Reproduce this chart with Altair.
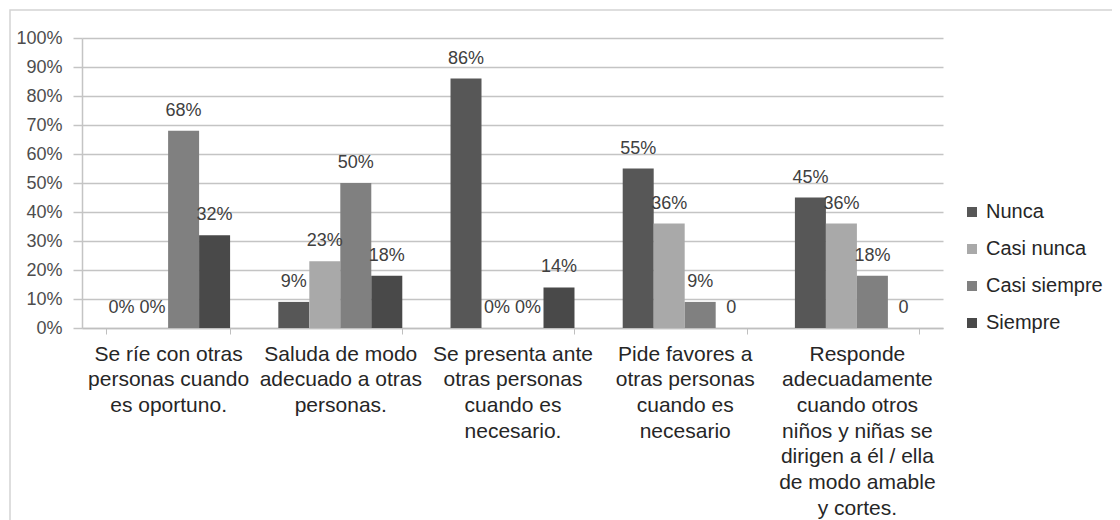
import altair as alt
import pandas as pd

categories = [
    "Se ríe con otras|personas cuando|es oportuno.",
    "Saluda de modo|adecuado a otras|personas.",
    "Se presenta ante|otras personas|cuando es|necesario.",
    "Pide favores a|otras personas|cuando es|necesario",
    "Responde|adecuadamente|cuando otros|niños y niñas se|dirigen a él / ella|de modo amable|y cortes.",
]
series = ["Nunca", "Casi nunca", "Casi siempre", "Siempre"]

nunca = [0, 9, 86, 55, 45]
casi_nunca = [0, 23, 0, 36, 36]
casi_siempre = [68, 50, 0, 9, 18]
siempre = [32, 18, 14, 0, 0]

label_nunca = ["0%", "9%", "86%", "55%", "45%"]
label_casi_nunca = ["0%", "23%", "0%", "36%", "36%"]
label_casi_siempre = ["68%", "50%", "0%", "9%", "18%"]
label_siempre = ["32%", "18%", "14%", "0", "0"]

colors = ["#575757", "#a9a9a9", "#808080", "#494949"]
y_ticks = [0, 0.1, 0.2, 0.3, 0.4, 0.5, 0.6, 0.7, 0.8, 0.9, 1.0]

rows = []
for s, vals, labs in zip(series,
                         [nunca, casi_nunca, casi_siempre, siempre],
                         [label_nunca, label_casi_nunca, label_casi_siempre, label_siempre]):
    for c, v, l in zip(categories, vals, labs):
        rows.append({"cat": c, "serie": s, "valor": v / 100.0, "etiqueta": l})
df = pd.DataFrame(rows)

FONT = "Liberation Sans"

x_enc = alt.X(
    "cat:N",
    sort=categories,
    scale=alt.Scale(paddingInner=0.28, paddingOuter=0.14),
    axis=alt.Axis(
        title=None,
        labelAngle=0,
        labelExpr="split(datum.label, '|')",
        labelFont=FONT,
        labelFontSize=21,
        labelLineHeight=25.7,
        labelColor="#262626",
        labelBaseline="top",
        labelPadding=9,
        labelLimit=400,
        tickSize=6,
        tickBand="extent",
        tickColor="#bfbfbf",
        domainColor="#bfbfbf",
        domainWidth=1.5,
        grid=False,
    ),
)
xoff = alt.XOffset("serie:N", sort=series, scale=alt.Scale(paddingInner=0, paddingOuter=0))
y_enc = alt.Y(
    "valor:Q",
    scale=alt.Scale(domain=[0, 1]),
    axis=alt.Axis(
        title=None,
        values=y_ticks,
        format=".0%",
        labelFont=FONT,
        labelFontSize=18,
        labelColor="#4d4d4d",
        labelPadding=11,
        tickSize=9,
        tickColor="#c4c4c4",
        tickWidth=1.5,
        gridColor="#c4c4c4",
        gridWidth=1.5,
        domainColor="#c4c4c4",
        domainWidth=1.5,
    ),
)

base = alt.Chart(df).encode(x=x_enc, xOffset=xoff, y=y_enc)

bars = base.mark_bar().encode(
    color=alt.Color(
        "serie:N",
        sort=series,
        scale=alt.Scale(domain=series, range=colors),
        legend=alt.Legend(
            title=None,
            orient="none",
            legendX=880,
            legendY=164,
            symbolType="square",
            symbolSize=100,
            symbolStrokeWidth=0,
            labelFont=FONT,
            labelFontSize=20,
            labelColor="#262626",
            labelOffset=4,
            rowPadding=17,
            padding=0,
        ),
    )
)

text = base.mark_text(
    baseline="alphabetic", dy=-15, font=FONT, fontSize=18, color="#404040"
).encode(text="etiqueta:N")

border = alt.Chart(pd.DataFrame({"b": [0]})).mark_rect(
    fill="transparent", stroke="#d4d4d4", strokeWidth=1.5
).encode(
    x=alt.value(-72), x2=alt.value(1045), y=alt.value(-28), y2=alt.value(495)
)

chart = alt.layer(border, bars, text).properties(
    width=861,
    height=290,
    autosize=alt.AutoSizeParams(type="none"),
    padding={"left": 74, "top": 30, "right": 169, "bottom": 192},
    background="white",
).configure_view(strokeWidth=0)

chart.save("out.html", embed_options={"renderer": "svg", "actions": False})
